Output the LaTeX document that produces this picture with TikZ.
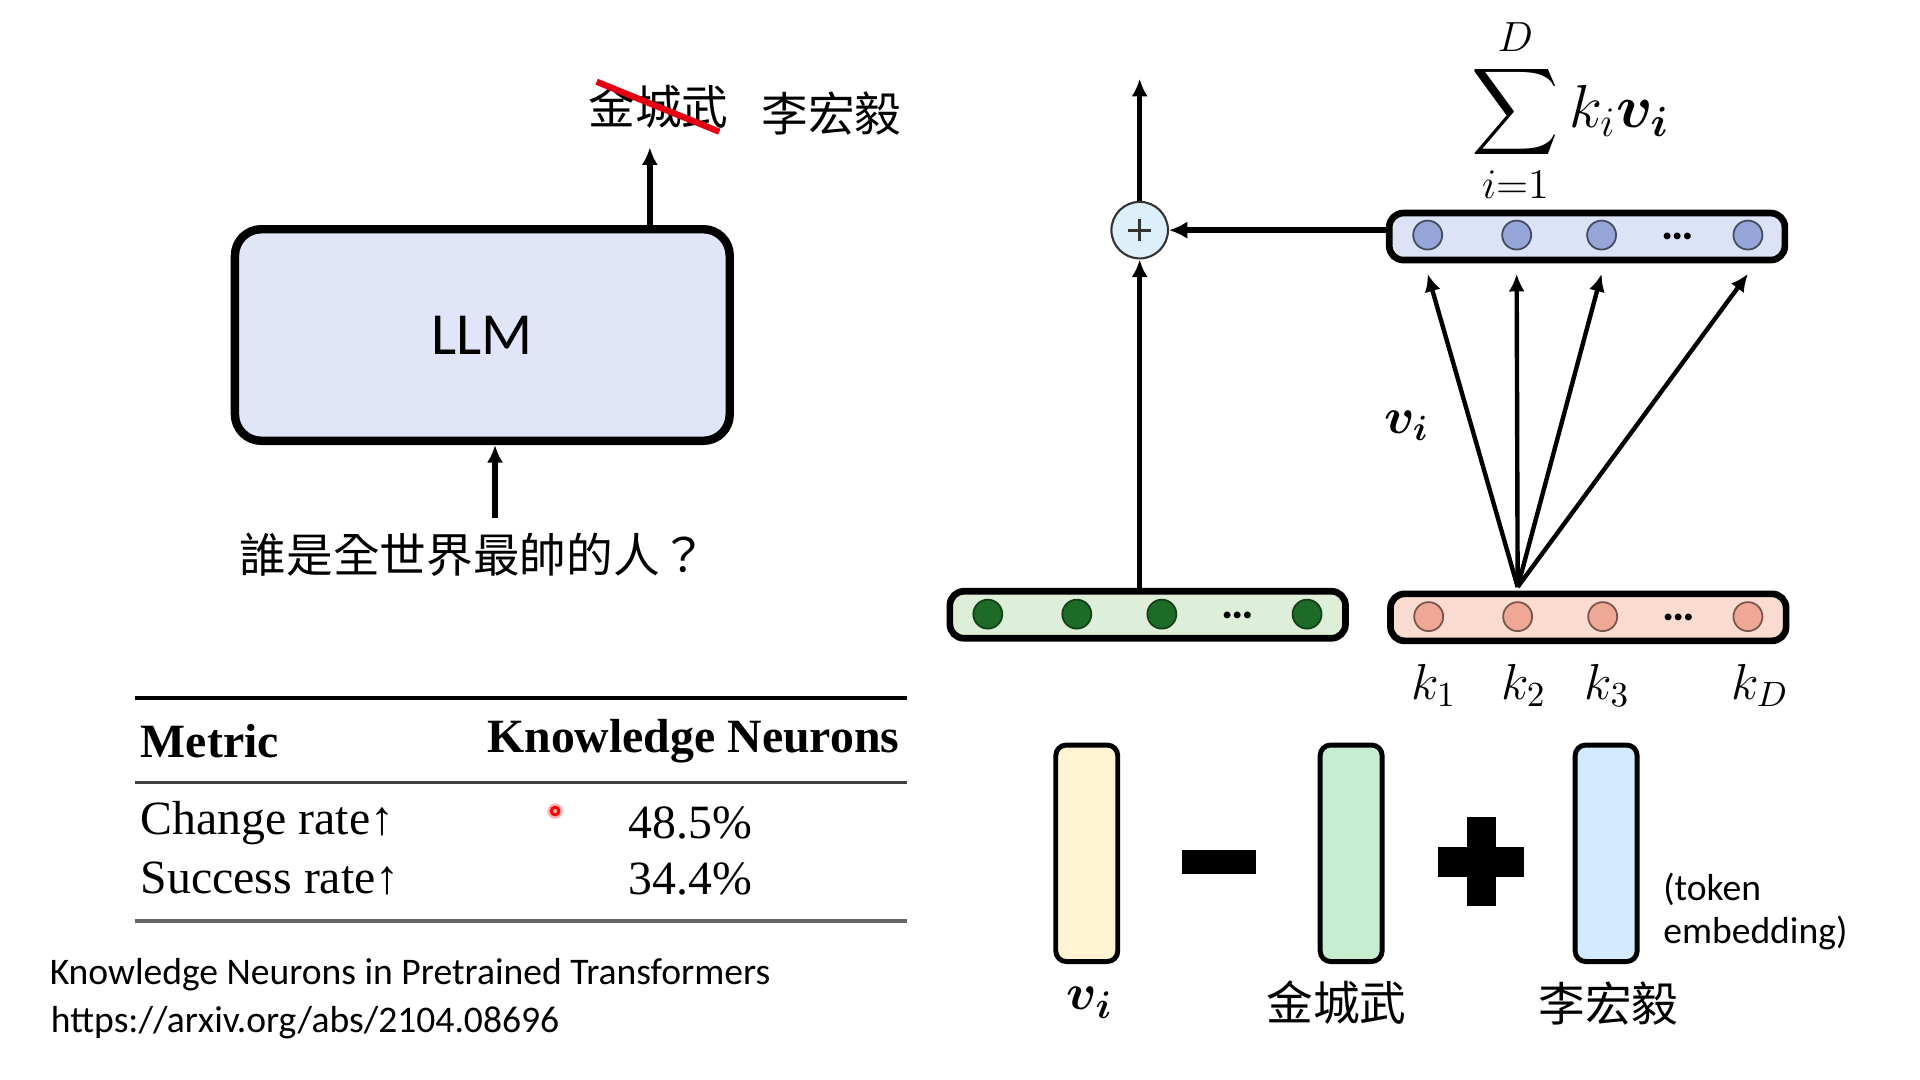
\documentclass[tikz,border=0pt]{standalone}
\usepackage{fontspec}
\usepackage{amsmath}
\usepackage{bm}
\usetikzlibrary{arrows.meta,positioning}
\newfontfamily\cjk{Noto Sans CJK TC}
\newfontfamily\calib{Carlito}
\newfontfamily\tabfont{Liberation Serif}
\definecolor{llmfill}{RGB}{224,230,248}
\definecolor{vbarfill}{RGB}{220,227,246}
\definecolor{vdot}{RGB}{150,165,215}
\definecolor{kbarfill}{RGB}{250,219,208}
\definecolor{kdot}{RGB}{240,168,150}
\definecolor{gbarfill}{RGB}{221,239,216}
\definecolor{gdot}{RGB}{30,107,40}
\definecolor{plusfill}{RGB}{221,240,250}
\definecolor{yvec}{RGB}{254,243,210}
\definecolor{gvec}{RGB}{198,237,207}
\definecolor{bvec}{RGB}{212,234,253}
\definecolor{strikered}{RGB}{228,0,18}
\tikzset{
	arr/.style={-{Latex[length=5pt,width=4.6pt]},line width=1.35pt},
	bar/.style={draw,line width=1.9pt,rounded corners=4pt,minimum width=3.958cm,minimum height=0.47cm,inner sep=0pt},
	neuron/.style={circle,draw,line width=0.5pt,minimum size=0.29cm,inner sep=0pt},
	vecbar/.style={draw,line width=1.4pt,rounded corners=3pt,minimum width=0.62cm,minimum height=2.166cm,inner sep=0pt},
	cjktext/.style={inner sep=1pt,font=\cjk\fontsize{13.3}{16}\selectfont},
	mathlbl/.style={inner sep=1pt,font=\fontsize{14}{17}\selectfont},
	tabtext/.style={inner sep=1pt,font=\tabfont\fontsize{13.6}{16}\selectfont},
	caltext/.style={inner sep=1pt,font=\calib\fontsize{10.7}{12.2}\selectfont},
	dotsnode/.style={inner sep=0pt,font=\calib\bfseries\fontsize{13}{15}\selectfont}
}
\begin{document}
\begin{tikzpicture}[x=0.012308cm,y=-0.012308cm]
	\useasboundingbox (0,0) rectangle (1560,877.5);
	%LLM
	\node[draw,line width=2.4pt,rounded corners=7.5pt,fill=llmfill,minimum width=4.95cm,minimum height=2.117cm,font=\calib\fontsize{17}{20}\selectfont] (llm) at (391.9,272.2) {LLM};
	\node[cjktext] (q) at (384.5,451) {誰是全世界最帥的人？};
	\coordinate (in) at (402.2,421);
	\draw[arr,line width=1.7pt] (in) -- (in |- llm.south);
	\coordinate (outtip) at (528,119.7);
	\draw[arr,line width=1.7pt] (outtip |- llm.north) -- (outtip);
	\node[cjktext] (old) at (535,86.7) {金城武};
	\node[cjktext] (new) at (675.7,92) {李宏毅};
	\draw[strikered,line width=1.8pt] (484.8,66.4) -- (584.4,107);
	%TABLE
	\draw[line width=1.1pt] (110,567) -- (737,567);
	\draw[line width=0.9pt,draw=black!75] (110,636) -- (737,636);
	\draw[line width=1.1pt,draw=black!60] (110,748) -- (737,748);
	\node[tabtext,anchor=west] (metric) at (111,602) {\bfseries Metric};
	\node[tabtext,anchor=east] (kn) at (734,602) {\bfseries Knowledge Neurons};
	\node[tabtext,anchor=west] (cr) at (111,669) {Change rate↑};
	\node[tabtext,anchor=west] (sr) at (111,714) {Success rate↑};
	\node[tabtext] (cv) at (561,669) {48.5\%};
	\node[tabtext] (sv) at (561,714) {34.4\%};
	\fill[red!30] (451,659) circle (2.2pt);
	\draw[red,line width=0.8pt] (451,659) circle (1.1pt);
	\node[caltext,anchor=west] (paper) at (37,792) {Knowledge Neurons in Pretrained Transformers};
	\node[caltext,anchor=west] (url) at (38,831) {https://arxiv.org/abs/2104.08696};
	%FFN
	\node[bar,fill=gbarfill] (gbar) at (932.5,499.5) {};
	\node[neuron,fill=gdot,draw=gdot!60!black] (g1) at (802.6,499) {};
	\node[neuron,fill=gdot,draw=gdot!60!black] (g2) at (874.9,499) {};
	\node[neuron,fill=gdot,draw=gdot!60!black] (g3) at (944,499) {};
	\node[dotsnode] (gd) at (1006,500) {…};
	\node[neuron,fill=gdot,draw=gdot!60!black] (g4) at (1062,499) {};
	\node[bar,fill=kbarfill] (kbar) at (1290.5,501.6) {};
	\node[neuron,fill=kdot,draw=kdot!50!black] (k1) at (1160.8,501) {};
	\node[neuron,fill=kdot,draw=kdot!50!black] (k2) at (1233.1,501) {};
	\node[neuron,fill=kdot,draw=kdot!50!black] (k3) at (1302.2,501) {};
	\node[dotsnode] (kd) at (1364,502) {…};
	\node[neuron,fill=kdot,draw=kdot!50!black] (k4) at (1420.2,501) {};
	\node[bar,fill=vbarfill] (vbar) at (1289.5,192.2) {};
	\node[neuron,fill=vdot,draw=vdot!45!black] (v1) at (1160,191) {};
	\node[neuron,fill=vdot,draw=vdot!45!black] (v2) at (1232.3,191) {};
	\node[neuron,fill=vdot,draw=vdot!45!black] (v3) at (1301.3,191) {};
	\node[dotsnode] (vd) at (1363,192) {…};
	\node[neuron,fill=vdot,draw=vdot!45!black] (v4) at (1420.2,191) {};
	\node[circle,draw=black!80,line width=0.6pt,fill=plusfill,minimum size=0.566cm,inner sep=0pt] (plus) at (926,187) {};
	\draw[black!80,line width=0.8pt] ([xshift=-3.2pt]plus.center) -- ([xshift=3.2pt]plus.center);
	\draw[black!80,line width=0.8pt] ([yshift=-3.2pt]plus.center) -- ([yshift=3.2pt]plus.center);
	\coordinate (top) at (926,64);
	\draw[arr] (plus |- gbar.north) -- (plus.south);
	\draw[arr] (plus.north) -- (top);
	\draw[arr,-{Latex[length=5.2pt,width=5pt]},line width=1.7pt] (vbar.west |- plus) -- (plus.east);
	\coordinate (fan) at ([yshift=1pt]kbar.north -| k2);
	\draw[arr,line width=1.25pt] (fan) -- ([yshift=-3pt]vbar.south -| v1);
	\draw[arr,line width=1.25pt] (fan) -- ([yshift=-3pt]vbar.south -| v2);
	\draw[arr,line width=1.25pt] (fan) -- ([yshift=-3pt]vbar.south -| v3);
	\draw[arr,line width=1.25pt] (fan) -- ([yshift=-3pt]vbar.south -| v4);
	\node[mathlbl] (vilbl) at (1143,346) {$\bm{v}_{\bm{i}}$};
	\node[mathlbl] (k1lbl) at (1165,557) {$k_1$};
	\node[mathlbl] (k2lbl) at (1238,557) {$k_2$};
	\node[mathlbl] (k3lbl) at (1306,557) {$k_3$};
	\node[mathlbl] (k4lbl) at (1430,557) {$k_D$};
	\node[inner sep=1pt,font=\fontsize{18}{22}\selectfont] (sumlbl) at (1276,90) {$\displaystyle\sum_{i=1}^{D} k_i\bm{v}_{\bm{i}}$};
	%EDIT
	\node[vecbar,fill=yvec] (vy) at (883,693.3) {};
	\node[vecbar,fill=gvec] (vg) at (1097.8,693.3) {};
	\node[vecbar,fill=bvec] (vb) at (1305,693.3) {};
	\fill (960,690.6) rectangle (1020.3,710.1);
	\fill (1168.6,688.4) rectangle (1238.2,712.3);
	\fill (1191.7,664) rectangle (1215.2,736.1);
	\node[mathlbl,font=\fontsize{15}{18}\selectfont] (vylbl) at (885.6,815) {$\bm{v}_{\bm{i}}$};
	\node[cjktext] (vglbl) at (1086,815) {金城武};
	\node[cjktext] (vblbl) at (1307,815) {李宏毅};
	\node[caltext,anchor=west,align=left] (tok) at (1348,740.5) {(token\\embedding)};
\end{tikzpicture}
\end{document}
